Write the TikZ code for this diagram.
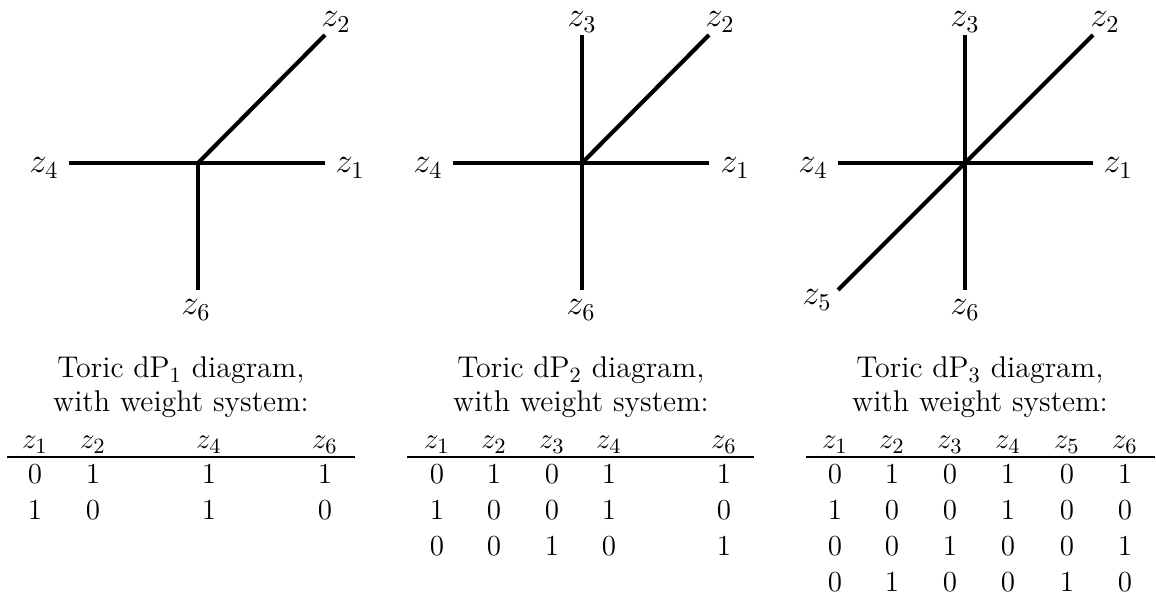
\documentclass[tikz,border=0pt]{standalone}
\begin{document}
\begin{tikzpicture}[x=0.4132pt,y=-0.4132pt,
  edge/.style={line width=1.7pt},
  lab/.style={font=\fontsize{14.6}{17}\selectfont, inner sep=0pt},
  txt/.style={font=\fontsize{12.4}{14.5}\selectfont, anchor=base, inner sep=0pt},
  rule/.style={line width=0.45pt}]
\useasboundingbox (0,0) rectangle (1156,596);

% ---------- Panel 1: dP1 ----------
\coordinate (a-o) at (198,163);
\coordinate (a-1) at (325,163);
\coordinate (a-2) at (325,35);
\coordinate (a-4) at (69,163);
\coordinate (a-6) at (198,290);
\draw[edge] (a-4) -- (a-1);
\draw[edge] (a-o) -- (a-2);
\draw[edge] (a-o) -- (a-6);
\node[lab] (a-l1) at (350,168) {$z_1$};
\node[lab] (a-l2) at (336,22) {$z_2$};
\node[lab] (a-l4) at (44,168) {$z_4$};
\node[lab] (a-l6) at (196,310) {$z_6$};
\node[txt] (a-t1) at (181,378) {Toric dP$_1$ diagram,};
\node[txt] (a-t2) at (181,412) {with weight system:};
\foreach \x/\h [count=\i] in {35/1,93/2,209/4,325/6}
  \node[txt] (a-h\i) at (\x,449) {$z_{\h}$};
\coordinate (a-rl) at (7,457);
\coordinate (a-rr) at (355,457);
\draw[rule] (a-rl) -- (a-rr);
\foreach \x/\p/\q [count=\i] in {35/0/1,93/1/0,209/1/1,325/1/0}{
  \node[txt] (a-r1c\i) at (\x,484) {$\p$};
  \node[txt] (a-r2c\i) at (\x,520) {$\q$};
}

% ---------- Panel 2: dP2 ----------
\coordinate (b-o) at (582,163);
\coordinate (b-1) at (709,163);
\coordinate (b-2) at (709,35);
\coordinate (b-3) at (582,35);
\coordinate (b-4) at (453,163);
\coordinate (b-6) at (582,290);
\draw[edge] (b-4) -- (b-1);
\draw[edge] (b-3) -- (b-6);
\draw[edge] (b-o) -- (b-2);
\node[lab] (b-l1) at (735,168) {$z_1$};
\node[lab] (b-l2) at (720,22) {$z_2$};
\node[lab] (b-l3) at (582,22) {$z_3$};
\node[lab] (b-l4) at (428,168) {$z_4$};
\node[lab] (b-l6) at (581,310) {$z_6$};
\node[txt] (b-t1) at (581,378) {Toric dP$_2$ diagram,};
\node[txt] (b-t2) at (581,412) {with weight system:};
\foreach \x/\h [count=\i] in {437/1,494/2,552/3,609/4,724/6}
  \node[txt] (b-h\i) at (\x,449) {$z_{\h}$};
\coordinate (b-rl) at (407,457);
\coordinate (b-rr) at (754,457);
\draw[rule] (b-rl) -- (b-rr);
\foreach \x/\p/\q/\r [count=\i] in {437/0/1/0,494/1/0/0,552/0/0/1,609/1/1/0,724/1/0/1}{
  \node[txt] (b-r1c\i) at (\x,484) {$\p$};
  \node[txt] (b-r2c\i) at (\x,520) {$\q$};
  \node[txt] (b-r3c\i) at (\x,556) {$\r$};
}

% ---------- Panel 3: dP3 ----------
\coordinate (c-o) at (965,163);
\coordinate (c-1) at (1093,163);
\coordinate (c-2) at (1093,35);
\coordinate (c-3) at (965,35);
\coordinate (c-4) at (838,163);
\coordinate (c-5) at (838,290);
\coordinate (c-6) at (965,290);
\draw[edge] (c-4) -- (c-1);
\draw[edge] (c-3) -- (c-6);
\draw[edge] (c-5) -- (c-2);
\node[lab] (c-l1) at (1118,168) {$z_1$};
\node[lab] (c-l2) at (1105,22) {$z_2$};
\node[lab] (c-l3) at (965,22) {$z_3$};
\node[lab] (c-l4) at (813,168) {$z_4$};
\node[lab] (c-l5) at (817,300) {$z_5$};
\node[lab] (c-l6) at (965,310) {$z_6$};
\node[txt] (c-t1) at (980,378) {Toric dP$_3$ diagram,};
\node[txt] (c-t2) at (980,412) {with weight system:};
\foreach \x/\h [count=\i] in {835/1,892/2,950/3,1008/4,1067/5,1125/6}
  \node[txt] (c-h\i) at (\x,449) {$z_{\h}$};
\coordinate (c-rl) at (806,457);
\coordinate (c-rr) at (1155,457);
\draw[rule] (c-rl) -- (c-rr);
\foreach \x/\p/\q/\r/\s [count=\i] in {835/0/1/0/0,892/1/0/0/1,950/0/0/1/0,1008/1/1/0/0,1067/0/0/0/1,1125/1/0/1/0}{
  \node[txt] (c-r1c\i) at (\x,484) {$\p$};
  \node[txt] (c-r2c\i) at (\x,520) {$\q$};
  \node[txt] (c-r3c\i) at (\x,556) {$\r$};
  \node[txt] (c-r4c\i) at (\x,592) {$\s$};
}
\end{tikzpicture}
\end{document}
